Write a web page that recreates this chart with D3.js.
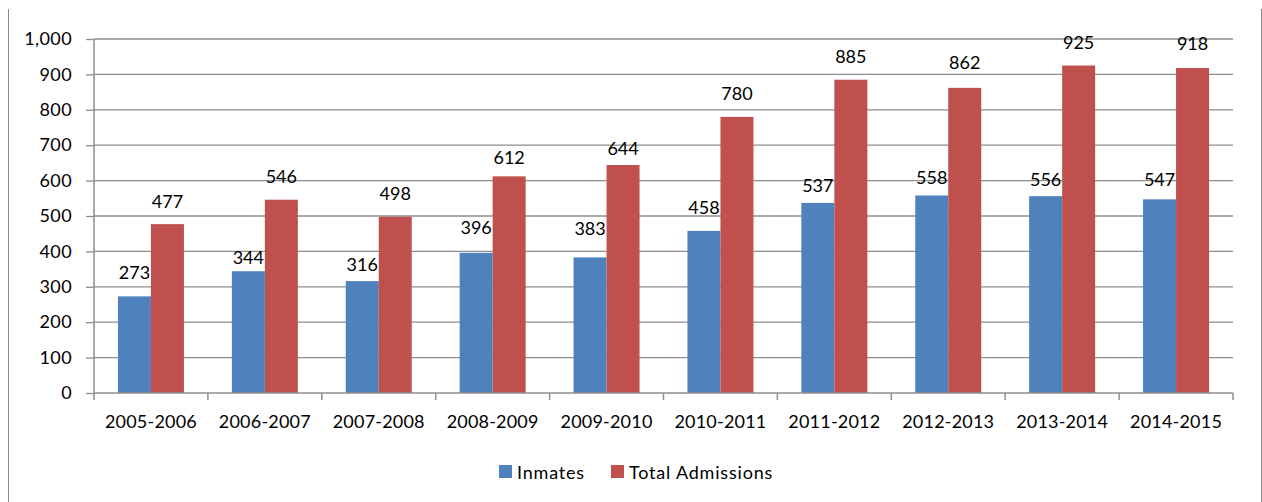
<!DOCTYPE html>
<html>
<head>
<meta charset="utf-8">
<script src="https://cdn.jsdelivr.net/npm/d3@7"></script>
<style>
  html, body { margin: 0; padding: 0; background: #fff; }
  svg text { font-family: Lato, "Open Sans", sans-serif; fill: #000; }
</style>
</head>
<body>
<svg id="chart" width="1262" height="502"></svg>
<script>
const categories = ["2005-2006","2006-2007","2007-2008","2008-2009","2009-2010","2010-2011","2011-2012","2012-2013","2013-2014","2014-2015"];
const inmates = [273, 344, 316, 396, 383, 458, 537, 558, 556, 547];
const totalAdmissions = [477, 546, 498, 612, 644, 780, 885, 862, 925, 918];
const seriesNames = ["Inmates", "Total Admissions"];
const yTicks = [0, 100, 200, 300, 400, 500, 600, 700, 800, 900, 1000];

// layout: distance (px) from bar top to label centre, as placed in the original
const inmatesLabelLift = [24, 14, 17, 26, 29, 24, 18, 18, 17, 20];
const admissionsLabelLift = [23, 24, 24, 19, 17, 24, 24, 26, 24, 25];

const colors = { "Inmates": "#4F81BD", "Total Admissions": "#C0504D" };
const svg = d3.select("#chart");
const fs = "18px";

const plotLeft = 94, plotRight = 1233, plotTop = 39, plotBottom = 393;
const y = d3.scaleLinear().domain([0, 1000]).range([plotBottom, plotTop]);
const pad = 0.4206;
const x0 = d3.scaleBand().domain(categories).range([plotLeft, plotRight]).paddingInner(pad).paddingOuter(pad / 2);
const x1 = d3.scaleBand().domain(seriesNames).range([0, x0.bandwidth()]);
const step = x0.step();

// frame lines
svg.append("line").attr("x1", 8.5).attr("x2", 8.5).attr("y1", 9).attr("y2", 502).attr("stroke", "#8a8a8a").attr("stroke-width", 1);
svg.append("line").attr("x1", 1261.5).attr("x2", 1261.5).attr("y1", 9).attr("y2", 502).attr("stroke", "#8a8a8a").attr("stroke-width", 1);

// gridlines & y axis
const yAxis = d3.axisLeft(y).tickValues(yTicks).tickSize(8).tickPadding(14).tickFormat(d3.format(","));
const gy = svg.append("g").attr("transform", `translate(${plotLeft},0)`).call(yAxis);
gy.select(".domain").remove();
gy.selectAll(".tick line").attr("stroke", "#8e8e8e").attr("stroke-width", 1.3);
gy.selectAll(".tick text").style("font-size", fs).style("letter-spacing", "0.4px").attr("fill", "#000");

svg.append("g").selectAll("line").data(yTicks.filter(d => d > 0)).join("line")
  .attr("x1", plotLeft).attr("x2", plotRight)
  .attr("y1", d => y(d)).attr("y2", d => y(d))
  .attr("stroke", "#8e8e8e").attr("stroke-width", 1.3);

// bars
const rows = categories.map((c, i) => ({ cat: c, vals: [
  { s: "Inmates", v: inmates[i], lift: inmatesLabelLift[i] },
  { s: "Total Admissions", v: totalAdmissions[i], lift: admissionsLabelLift[i] }
]}));

const groups = svg.append("g").selectAll("g").data(rows).join("g")
  .attr("transform", d => `translate(${x0(d.cat)},0)`);
groups.selectAll("rect").data(d => d.vals).join("rect")
  .attr("x", d => x1(d.s)).attr("width", x1.bandwidth())
  .attr("y", d => y(d.v)).attr("height", d => y(0) - y(d.v))
  .attr("fill", d => colors[d.s]);
groups.selectAll("text").data(d => d.vals).join("text")
  .attr("x", d => x1(d.s) + x1.bandwidth() / 2)
  .attr("y", d => y(d.v) - d.lift)
  .attr("text-anchor", "middle").attr("dominant-baseline", "central")
  .style("font-size", fs)
  .text(d => d.v);

// x axis
svg.append("line").attr("x1", plotLeft).attr("x2", plotRight).attr("y1", plotBottom).attr("y2", plotBottom)
  .attr("stroke", "#8e8e8e").attr("stroke-width", 1.5);
svg.append("line").attr("x1", plotLeft).attr("x2", plotLeft).attr("y1", plotTop).attr("y2", plotBottom)
  .attr("stroke", "#8e8e8e").attr("stroke-width", 1.5);
const bounds = categories.map(c => x0(c) - step * pad / 2).concat([plotRight]);
svg.append("g").selectAll("line").data(bounds).join("line")
  .attr("x1", d => d).attr("x2", d => d).attr("y1", plotBottom).attr("y2", plotBottom + 7)
  .attr("stroke", "#8e8e8e").attr("stroke-width", 1.5);
svg.append("g").selectAll("text").data(categories).join("text")
  .attr("x", d => x0(d) + x0.bandwidth() / 2)
  .attr("y", 421)
  .attr("text-anchor", "middle").attr("dominant-baseline", "central")
  .style("font-size", fs).style("letter-spacing", "0.2px")
  .text(d => d);

// legend
const legendItems = [
  { s: "Inmates", x: 499 },
  { s: "Total Admissions", x: 611 }
];
const lg = svg.append("g").selectAll("g").data(legendItems).join("g")
  .attr("transform", d => `translate(${d.x},465)`);
lg.append("rect").attr("width", 13).attr("height", 13).attr("fill", d => colors[d.s]);
lg.append("text").attr("x", 18).attr("y", 6.5).attr("dominant-baseline", "central")
  .style("font-size", fs).style("letter-spacing", "0.8px").text(d => d.s);
</script>
</body>
</html>
